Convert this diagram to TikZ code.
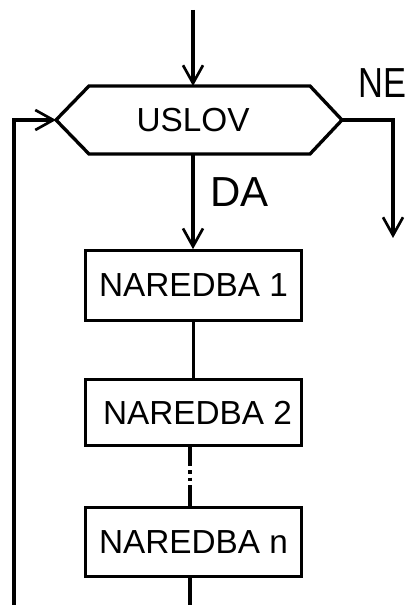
\documentclass[tikz,border=0pt]{standalone}
\usepackage{fontspec}
\setmainfont{Liberation Sans}
\usetikzlibrary{arrows.meta}
\usetikzlibrary{positioning}
\tikzstyle{flowline} = [line width=2.5pt]
\tikzstyle{arrow} = [flowline,-{Straight Barb[length=13.5pt,width=15pt,line width=2pt]}]
\tikzstyle{naredba} = [draw,rectangle,line width=2.5pt,minimum width=162pt,inner sep=0pt,font=\fontsize{25}{30}\selectfont]
\tikzstyle{granatext} = [inner sep=0pt,anchor=base west,font=\fontsize{31.5}{36}\selectfont]

\begin{document}
\begin{tikzpicture}[x=0.75pt,y=-0.75pt]

    \useasboundingbox (0,0) rectangle (407,605); % Keeps the page size...

    % the condition hexagon
    \coordinate (Top)  at (193,10);
    \coordinate (L)    at (56,120);
    \coordinate (LU)   at (89,86);
    \coordinate (U)    at (193,86);
    \coordinate (RU)   at (310,86);
    \coordinate (R)    at (342,120);
    \coordinate (RD)   at (310,154);
    \coordinate (D)    at (193,154);
    \coordinate (LD)   at (89,154);
    \draw [flowline] (L) -- (LU) -- (U) -- (RU) -- (R)
        -- (RD) -- (D) -- (LD) -- cycle;
    \node [inner sep=0pt,font=\fontsize{25}{30}\selectfont] (uslov) at (193,120) {USLOV};

    % the statements
    \node [naredba,minimum height=52pt]   (box1) at (193.5,285.5) {NAREDBA 1};
    \node [naredba,minimum height=49.5pt] (box2) at (193.5,412.5) {\hspace{6pt}NAREDBA 2};
    \node [naredba,minimum height=52pt]   (boxn) at (193.5,542)   {NAREDBA n\hspace{6pt}};

    \coordinate (NEcorner) at (393,120);
    \coordinate (NEend)    at (393,238);
    \coordinate (D1)       at (190,463);
    \coordinate (D2)       at (190,487);
    \coordinate (Out)      at (190,612);
    \coordinate (Back)     at (14,612);
    \coordinate (BackUp)   at (14,120);

    \draw [arrow] (Top) -- (U);
    \draw [arrow] (R) -- (NEcorner) -- (NEend);
    \draw [arrow] (D) -- (D |- box1.north);
    \draw [flowline] (box1) -- (box2);
    \draw [flowline] (box2.south -| D1) -- (D1);
    \draw [flowline,dash pattern=on 2.5pt off 3pt] (D1) -- (D2);
    \draw [flowline] (D2) -- (D2 |- boxn.north);
    \draw [flowline] (boxn.south -| Out) -- (Out);
    \draw [arrow] (Back) -- (BackUp) -- (L);

    \node [granatext] (ne) at (358,98)  {\scalebox{0.82}[1]{NE}};
    \node [granatext] (da) at (210,207) {DA};

\end{tikzpicture}
\end{document}
